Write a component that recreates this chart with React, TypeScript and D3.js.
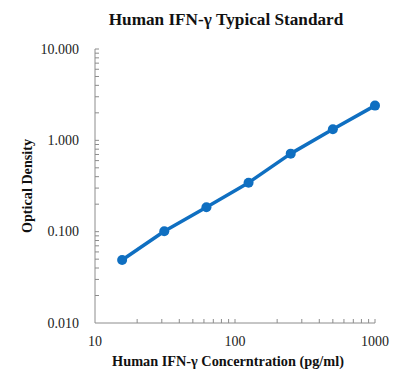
import React from "react";
import * as d3 from "d3";

const concentrations = [15.625, 31.25, 62.5, 125, 250, 500, 1000];
const odValues = [0.049, 0.101, 0.185, 0.344, 0.715, 1.32, 2.4];
const xTickValues = [10, 100, 1000];
const xTickLabels = ["10", "100", "1000"];
const yTickValues = [0.01, 0.1, 1, 10];
const yTickLabels = ["0.010", "0.100", "1.000", "10.000"];

const W = 406;
const H = 388;
const left = 95;
const right = 375;
const top = 49;
const bottom = 323;

export default function App() {
  const x = d3.scaleLog().domain([10, 1000]).range([left, right]);
  const y = d3.scaleLog().domain([0.01, 10]).range([bottom, top]);
  const line = d3
    .line<number>()
    .x((_, i) => x(concentrations[i]))
    .y((d) => y(d));

  const xMinor: number[] = [];
  for (let dec = 10; dec < 1000; dec *= 10)
    for (let k = 2; k <= 10; k++) xMinor.push(dec * k);
  const yMinor: number[] = [];
  for (let dec = 0.01; dec < 9; dec *= 10)
    for (let k = 2; k <= 10; k++) yMinor.push(dec * k);

  const font = "Liberation Serif, Times New Roman, Times, serif";
  const axisColor = "#8c8c8c";
  const blue = "#0f6fc1";
  const ts = { fontFamily: font };

  return (
    <svg
      width={W}
      height={H}
      style={{ position: "absolute", left: 0, top: 0, background: "#fff", fontFamily: font }}
    >
      <rect width={W} height={H} fill="#fff" />
      <text style={ts} x={226} y={25} textAnchor="middle" fontSize={17.2} fontWeight="bold" fill="#111">
        Human IFN-γ Typical Standard
      </text>
      <line x1={left} x2={left} y1={top} y2={bottom} stroke={axisColor} strokeWidth={1} />
      <line x1={left} x2={right} y1={bottom} y2={bottom} stroke={axisColor} strokeWidth={1} />
      {yMinor.map((v, i) => (
        <line key={"ym" + i} x1={left} x2={left + 4} y1={y(v)} y2={y(v)} stroke={axisColor} strokeWidth={1} />
      ))}
      {xMinor.map((v, i) => (
        <line key={"xm" + i} x1={x(v)} x2={x(v)} y1={bottom} y2={bottom - 4} stroke={axisColor} strokeWidth={1} />
      ))}
      {yTickValues.map((v, i) => (
        <text style={ts} key={"yt" + i} x={79} y={y(v) + 4.5} textAnchor="end" fontSize={14} fill="#222">
          {yTickLabels[i]}
        </text>
      ))}
      {xTickValues.map((v, i) => (
        <text style={ts} key={"xt" + i} x={x(v)} y={346} textAnchor="middle" fontSize={14} fill="#222">
          {xTickLabels[i]}
        </text>
      ))}
      <text
        style={ts}
        transform={`translate(32, 186) rotate(-90)`}
        textAnchor="middle"
        fontSize={14.2}
        fontWeight="bold"
        fill="#111"
      >
        Optical Density
      </text>
      <text style={ts} x={228} y={366} textAnchor="middle" fontSize={14.3} fontWeight="bold" fill="#111">
        Human IFN-γ Concerntration (pg/ml)
      </text>
      <path d={line(odValues) || ""} fill="none" stroke={blue} strokeWidth={3.5} strokeLinejoin="round" />
      {odValues.map((v, i) => (
        <circle key={"p" + i} cx={x(concentrations[i])} cy={y(v)} r={5} fill={blue} />
      ))}
    </svg>
  );
}
